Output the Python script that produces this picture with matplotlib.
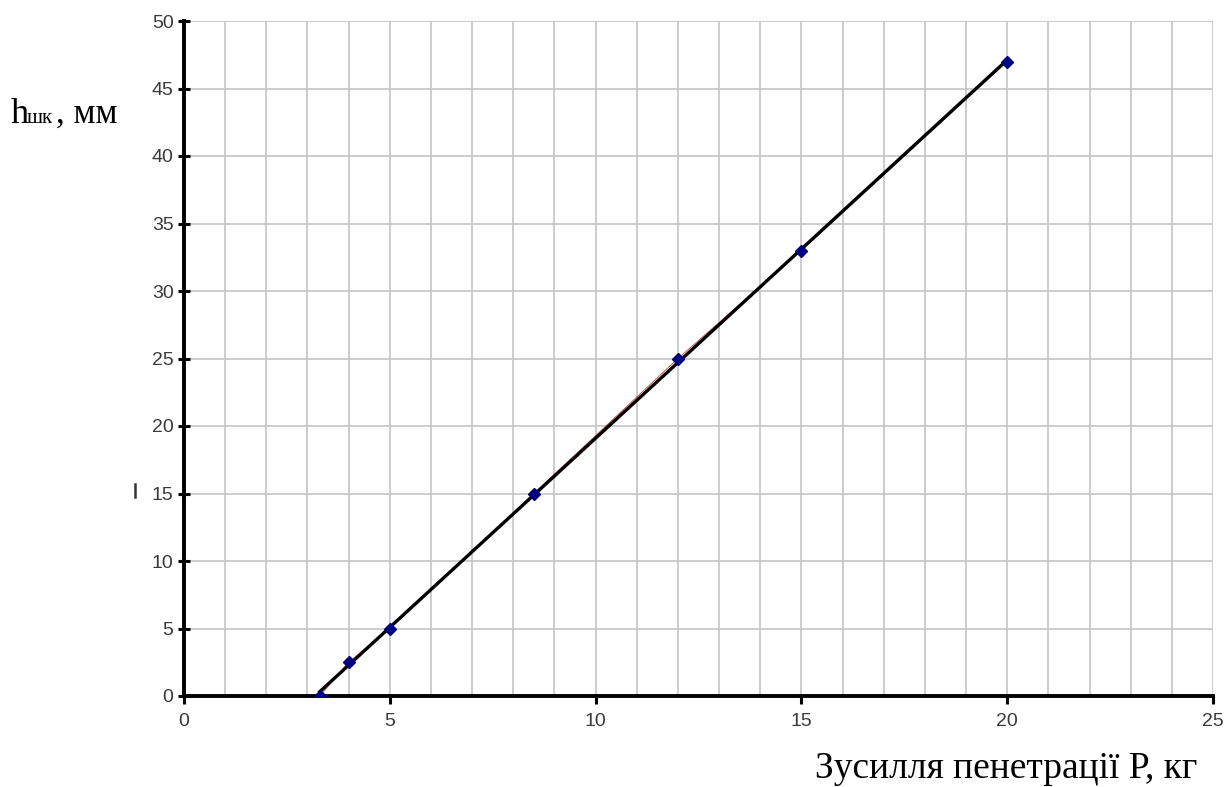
import numpy as np
import matplotlib.pyplot as plt
from matplotlib.lines import Line2D

# measured points
force = [3.3, 4, 5, 8.5, 12, 15, 20]
depth = [0, 2.5, 5, 15, 25, 33, 47]
xticks = [0, 5, 10, 15, 20, 25]
yticks = [0, 5, 10, 15, 20, 25, 30, 35, 40, 45, 50]

fig = plt.figure(figsize=(12.3, 7.87), dpi=100)
ax = fig.add_axes([184 / 1230, 91 / 787, 1029 / 1230, 675 / 787])

# linear trend through the points
k, b = np.polyfit(force, depth, 1)
xs = np.array([min(force), max(force)])

ax.plot(force, depth, color='#c04040', linewidth=0.6, zorder=2)
ax.plot(xs, k * xs + b, color='black', linewidth=2.4, zorder=3)
ax.plot(force, depth, linestyle='none', marker='D', markersize=6,
        color='#000080', zorder=4)

ax.set_xlim(0, 25)
ax.set_ylim(0, 50)
ax.set_xticks(xticks)
ax.set_yticks(yticks)
ax.set_xticks(np.arange(0, 26, 1), minor=True)
ax.grid(True, which='both', axis='x', color='#c4c4c4', linewidth=1.2)
ax.grid(True, which='major', axis='y', color='#c4c4c4', linewidth=1.2)
ax.tick_params(axis='x', which='minor', length=0)
ax.tick_params(axis='y', direction='inout', length=9, width=2.2,
               labelsize=14, labelcolor='#3a3a3a', pad=3)
ax.tick_params(axis='x', direction='out', length=6, width=2.2,
               labelsize=14, labelcolor='#3a3a3a', pad=6)
for lab in ax.get_xticklabels() + ax.get_yticklabels():
    lab.set_family('Liberation Sans')

ax.spines['top'].set_visible(False)
ax.spines['right'].set_visible(False)
ax.spines['left'].set_linewidth(2.8)
ax.spines['bottom'].set_linewidth(2.8)
ax.set_axisbelow(True)

serif = 'Liberation Serif'
fig.text(11 / 1230, 1 - 123 / 787, 'h', family=serif, fontsize=26, va='baseline')
fig.text(27 / 1230, 1 - 123 / 787, 'шк', family=serif, fontsize=15, va='baseline')
fig.text(56 / 1230, 1 - 123 / 787, ', мм', family=serif, fontsize=25, va='baseline')

fig.text(1197 / 1230, 1 - 778 / 787, 'Зусилля пенетрації Р, кг', family=serif,
         fontsize=27, ha='right', va='baseline')

# small stray mark left of the axis
fig.add_artist(Line2D([135 / 1230, 135 / 1230], [1 - 497 / 787, 1 - 484 / 787],
                      color='#333333', linewidth=1.8))

fig.savefig('out.png', dpi=100)
